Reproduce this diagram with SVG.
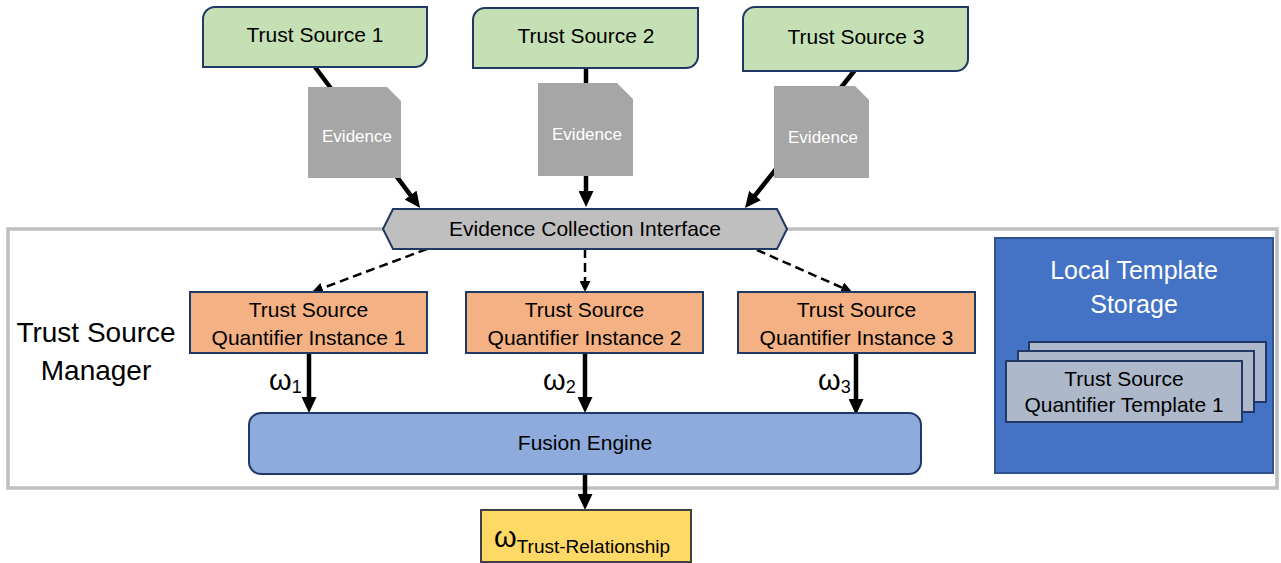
<svg xmlns="http://www.w3.org/2000/svg" width="1281" height="563" viewBox="0 0 1281 563">
  <style>
    text { font-family: "Liberation Sans", Arial, sans-serif; fill: #000; }
    .src { fill: #c5e0b4; stroke: #1f3864; stroke-width: 2; }
    .doc { fill: #a6a6a6; }
    .doc-label { fill: #fff; font-size: 17px; text-anchor: middle; }
    .iface { fill: #bfbfbf; stroke: #1f3864; stroke-width: 2; }
    .frame { fill: none; stroke: #bfbfbf; stroke-width: 3.5; }
    .quant { fill: #f4b183; stroke: #1f3864; stroke-width: 2; }
    .fusion { fill: #8faadc; stroke: #1f3864; stroke-width: 2; }
    .store { fill: #4472c4; stroke: #2f528f; stroke-width: 2; }
    .card { fill: #adb9ca; stroke: #1f3864; stroke-width: 2; }
    .result { fill: #ffd966; stroke: #404040; stroke-width: 2; }
    .lbl { font-size: 21px; text-anchor: middle; }
    .solid { stroke: #000; stroke-width: 4.5; fill: none; marker-end: url(#head); }
    .dash { stroke: #000; stroke-width: 2.5; fill: none; stroke-dasharray: 9 5; marker-end: url(#headSmall); }
  </style>
  <defs>
    <marker id="head" markerUnits="userSpaceOnUse" markerWidth="16" markerHeight="15" refX="4" refY="7.5" orient="auto">
      <path d="M0,0 L16,7.5 L0,15 Z" fill="#000"/>
    </marker>
    <marker id="headSmall" markerUnits="userSpaceOnUse" markerWidth="11" markerHeight="11" refX="3" refY="5.5" orient="auto">
      <path d="M0,0 L11,5.5 L0,11 Z" fill="#000"/>
    </marker>
  </defs>

  <rect width="1281" height="563" fill="#fff"/>

  <!-- Trust Source Manager frame -->
  <g id="trust-source-manager">
    <rect class="frame" x="8" y="229" width="1269" height="259"/>
    <text x="96" y="342" font-size="28" text-anchor="middle">Trust Source</text>
    <text x="96" y="380" font-size="28" text-anchor="middle">Manager</text>
  </g>

  <!-- connectors -->
  <g id="connectors">
    <line class="solid" x1="315" y1="67" x2="412.9" y2="198.3"/>
    <line class="solid" x1="586" y1="68" x2="586" y2="195"/>
    <line class="solid" x1="855" y1="70" x2="752.5" y2="198.6"/>
    <line class="dash" x1="427" y1="249" x2="319.5" y2="289.2"/>
    <line class="dash" x1="585" y1="249" x2="585" y2="284"/>
    <line class="dash" x1="757" y1="250" x2="844.7" y2="288.8"/>
    <line class="solid" x1="309" y1="353" x2="309" y2="401"/>
    <line class="solid" x1="585" y1="353" x2="585" y2="401"/>
    <line class="solid" x1="856" y1="353" x2="856" y2="403"/>
    <line class="solid" x1="585" y1="474" x2="585" y2="498"/>
    <text x="269" y="390" font-size="29">ω<tspan font-size="18" dy="3">1</tspan></text>
    <text x="543" y="390" font-size="29">ω<tspan font-size="18" dy="3">2</tspan></text>
    <text x="818" y="390" font-size="29">ω<tspan font-size="18" dy="3">3</tspan></text>
  </g>

  <!-- trust sources -->
  <g id="trust-source-1">
    <path class="src" d="M203,19 A12,12 0 0 1 215,7 L427,7 L427,55 A12,12 0 0 1 415,67 L203,67 Z"/>
    <text class="lbl" x="315" y="42" font-size="20">Trust Source 1</text>
  </g>
  <g id="trust-source-2">
    <path class="src" d="M473,20 A12,12 0 0 1 485,8 L698,8 L698,56 A12,12 0 0 1 686,68 L473,68 Z"/>
    <text class="lbl" x="586" y="43" font-size="20">Trust Source 2</text>
  </g>
  <g id="trust-source-3">
    <path class="src" d="M743,19 A12,12 0 0 1 755,7 L968,7 L968,59 A12,12 0 0 1 956,71 L743,71 Z"/>
    <text class="lbl" x="856" y="44" font-size="20">Trust Source 3</text>
  </g>

  <!-- evidence documents -->
  <g id="evidence-1">
    <path class="doc" d="M308,87 L387,87 L401,101 L401,178 L308,178 Z"/>
    <text class="doc-label" x="357" y="142">Evidence</text>
  </g>
  <g id="evidence-2">
    <path class="doc" d="M538,83 L617,83 L633,99 L633,176 L538,176 Z"/>
    <text class="doc-label" x="587" y="140">Evidence</text>
  </g>
  <g id="evidence-3">
    <path class="doc" d="M774,86 L855,86 L869,100 L869,178 L774,178 Z"/>
    <text class="doc-label" x="823" y="143">Evidence</text>
  </g>

  <!-- evidence collection interface -->
  <g id="evidence-collection-interface">
    <polygon class="iface" points="383,229 393,209 777,209 787,229 777,249 393,249"/>
    <text class="lbl" x="585" y="236">Evidence Collection Interface</text>
  </g>

  <!-- quantifier instances -->
  <g id="quantifier-1">
    <rect class="quant" x="190" y="292" width="237" height="61"/>
    <text class="lbl" x="308.5" y="317">Trust Source</text>
    <text class="lbl" x="308.5" y="345">Quantifier Instance 1</text>
  </g>
  <g id="quantifier-2">
    <rect class="quant" x="466" y="292" width="237" height="61"/>
    <text class="lbl" x="584.5" y="317">Trust Source</text>
    <text class="lbl" x="584.5" y="345">Quantifier Instance 2</text>
  </g>
  <g id="quantifier-3">
    <rect class="quant" x="738" y="292" width="237" height="61"/>
    <text class="lbl" x="856.5" y="317">Trust Source</text>
    <text class="lbl" x="856.5" y="345">Quantifier Instance 3</text>
  </g>

  <!-- fusion engine -->
  <g id="fusion-engine">
    <rect class="fusion" x="249" y="413" width="672" height="61" rx="12"/>
    <text class="lbl" x="585" y="450" font-size="20">Fusion Engine</text>
  </g>

  <!-- local template storage -->
  <g id="local-template-storage">
    <rect class="store" x="995" y="238" width="278" height="235"/>
    <text x="1134" y="278.5" font-size="25" text-anchor="middle" style="fill:#fff">Local Template</text>
    <text x="1134" y="312.5" font-size="25" text-anchor="middle" style="fill:#fff">Storage</text>
    <rect class="card" x="1029" y="342" width="237" height="60"/>
    <rect class="card" x="1018" y="351" width="236" height="61"/>
    <rect class="card" x="1006" y="361" width="236" height="61"/>
    <text class="lbl" x="1124" y="386">Trust Source</text>
    <text class="lbl" x="1124" y="412">Quantifier Template 1</text>
  </g>

  <!-- fused trust opinion -->
  <g id="trust-relationship">
    <rect class="result" x="481" y="510" width="210" height="52"/>
    <text x="494" y="547" font-size="29">ω<tspan font-size="19" dy="6.3">Trust-Relationship</tspan></text>
  </g>
</svg>
